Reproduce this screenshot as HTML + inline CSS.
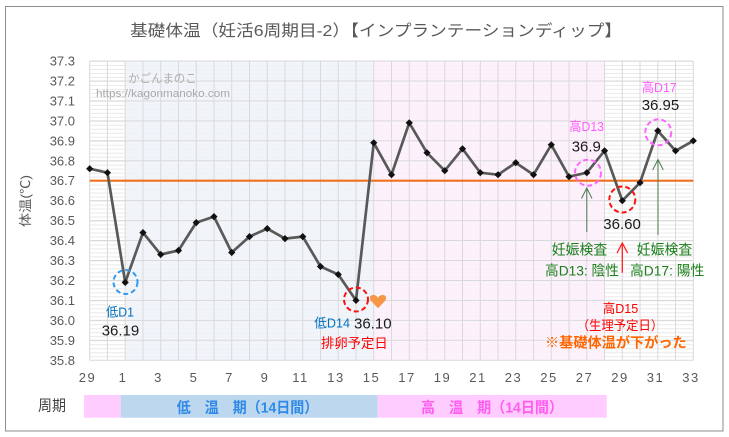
<!DOCTYPE html>
<html><head><meta charset="utf-8"><style>
html,body{margin:0;padding:0;background:#fff;}
svg{display:block;font-family:"Liberation Sans","Noto Sans CJK JP",sans-serif;}
</style></head><body>
<svg width="729" height="437" viewBox="0 0 729 437" xmlns="http://www.w3.org/2000/svg">
<defs>
<pattern id="minor" patternUnits="userSpaceOnUse" x="0" y="61" width="20" height="3.99">
<rect x="0" y="0" width="20" height="0.8" fill="#e4e4e4"/>
</pattern>
<marker id="dm" viewBox="-5 -5 10 10" markerWidth="8" markerHeight="8" markerUnits="userSpaceOnUse" refX="0" refY="0">
<polygon points="0,-4.5 4.5,0 0,4.5 -4.5,0" fill="#111"/>
</marker>
</defs>
<rect x="0" y="0" width="729" height="437" fill="#fff"/>
<rect x="5.5" y="6.5" width="717.5" height="424.5" fill="#fff" stroke="#8e8e8e" stroke-width="1"/>

<text x="130" y="36" font-size="16" fill="#595959" textLength="492" lengthAdjust="spacingAndGlyphs">基礎体温（妊活6周期目-2）【インプランテーションディップ】</text>

<!-- plot background -->
<rect x="89.7" y="61" width="603.6" height="299.3" fill="url(#minor)"/>
<rect x="125.2" y="61" width="248.5" height="299.3" fill="#eef3f9" opacity="0.85"/>
<rect x="373.7" y="61" width="230.8" height="299.3" fill="#fdf0fb" opacity="0.85"/>

<!-- major grid -->
<path fill="none" stroke="#d9d9d9" stroke-width="1" d="M89.7 61V360.3M107.45 61V360.3M125.21 61V360.3M142.96 61V360.3M160.71 61V360.3M178.47 61V360.3M196.22 61V360.3M213.97 61V360.3M231.72 61V360.3M249.48 61V360.3M267.23 61V360.3M284.98 61V360.3M302.74 61V360.3M320.49 61V360.3M338.24 61V360.3M356 61V360.3M373.75 61V360.3M391.5 61V360.3M409.25 61V360.3M427.01 61V360.3M444.76 61V360.3M462.51 61V360.3M480.27 61V360.3M498.02 61V360.3M515.77 61V360.3M533.53 61V360.3M551.28 61V360.3M569.03 61V360.3M586.78 61V360.3M604.54 61V360.3M622.29 61V360.3M640.04 61V360.3M657.8 61V360.3M675.55 61V360.3M693.3 61V360.3
M89.7 61H693.3M89.7 80.95H693.3M89.7 100.9H693.3M89.7 120.85H693.3M89.7 140.8H693.3M89.7 160.75H693.3M89.7 180.7H693.3M89.7 200.65H693.3M89.7 220.6H693.3M89.7 240.55H693.3M89.7 260.5H693.3M89.7 280.45H693.3M89.7 300.4H693.3M89.7 320.35H693.3M89.7 340.3H693.3M89.7 360.25H693.3"/>

<!-- watermark -->
<text x="128.3" y="82.5" font-size="12" fill="#b0b0b0" textLength="68.4" lengthAdjust="spacingAndGlyphs">かごんまのこ</text>
<text x="96" y="97" font-size="11" fill="#a8a8a8" textLength="134" lengthAdjust="spacingAndGlyphs">https://kagonmanoko.com</text>

<!-- y labels -->
<g font-size="13" fill="#595959" text-anchor="end">
<text x="75" y="65.5">37.3</text><text x="75" y="85.5">37.2</text><text x="75" y="105.4">37.1</text><text x="75" y="125.4">37.0</text><text x="75" y="145.3">36.9</text><text x="75" y="165.3">36.8</text><text x="75" y="185.2">36.7</text><text x="75" y="205.2">36.6</text><text x="75" y="225.1">36.5</text><text x="75" y="245.1">36.4</text><text x="75" y="265">36.3</text><text x="75" y="285">36.2</text><text x="75" y="304.9">36.1</text><text x="75" y="324.9">36.0</text><text x="75" y="344.8">35.9</text><text x="75" y="364.8">35.8</text>
</g>
<text transform="translate(30,201) rotate(-90)" font-size="13" fill="#595959" text-anchor="middle" textLength="52" lengthAdjust="spacingAndGlyphs">体温(℃)</text>

<!-- x labels -->
<g font-size="13" fill="#595959" text-anchor="middle" letter-spacing="1.5">
<text x="87.5" y="382">29</text><text x="123" y="382">1</text><text x="158.5" y="382">3</text><text x="194" y="382">5</text><text x="229.5" y="382">7</text><text x="265" y="382">9</text><text x="300.5" y="382">11</text><text x="336" y="382">13</text><text x="371.5" y="382">15</text><text x="407" y="382">17</text><text x="442.5" y="382">19</text><text x="478" y="382">21</text><text x="513.5" y="382">23</text><text x="549" y="382">25</text><text x="584.5" y="382">27</text><text x="620" y="382">29</text><text x="655.5" y="382">31</text><text x="691" y="382">33</text>
</g>

<!-- orange line -->
<line x1="89.7" y1="180.7" x2="693.3" y2="180.7" stroke="#f07020" stroke-width="2.2"/>

<!-- series -->
<polyline fill="none" stroke="#595959" stroke-width="2.7" stroke-linejoin="round" marker-start="url(#dm)" marker-mid="url(#dm)" marker-end="url(#dm)" points="89.7,168.7 107.45,172.7 125.21,282.4 142.96,232.6 160.71,254.5 178.47,250.5 196.22,222.6 213.97,216.6 231.72,252.5 249.48,236.6 267.23,228.6 284.98,238.6 302.74,236.6 320.49,266.5 338.24,274.5 356,300.4 373.75,142.8 391.5,174.7 409.25,122.8 427.01,152.8 444.76,170.7 462.51,148.8 480.27,172.7 498.02,174.7 515.77,162.7 533.53,174.7 551.28,144.8 569.03,176.7 586.78,172.7 604.54,150.8 622.29,200.7 640.04,182.7 657.8,130.8 675.55,150.8 693.3,140.8"/>

<!-- dashed circles -->
<g fill="none" stroke-width="2" stroke-dasharray="5 3">
<circle cx="125.5" cy="282" r="12" stroke="#3399ee"/>
<circle cx="356" cy="299.5" r="12" stroke="#ff1010"/>
<circle cx="588" cy="172.7" r="13" stroke="#ff66ff"/>
<circle cx="622.3" cy="199.5" r="13" stroke="#ff1010"/>
<circle cx="658.3" cy="132.3" r="13" stroke="#ff66ff"/>
</g>

<!-- heart -->
<path d="M378,308.3 L371.5,301.5 C369,298.5 369.5,295.3 373,295 C375.5,294.8 377.3,296.3 378,298 C378.7,296.3 380.5,294.8 383,295 C386.5,295.3 387,298.5 384.5,301.5 Z" fill="#f79646"/>

<!-- arrows -->
<g fill="none" stroke="#4f7a4f" stroke-width="1">
<path d="M586.8,232 V188 M581.5,198.5 L586.8,188 L592,198.5"/>
<path d="M658,235 V159.5 M652.7,170 L658,159.5 L663.3,170"/>
</g>
<path d="M622.3,272.7 V243 M617,253 L622.3,243 L627.6,253" fill="none" stroke="#ff2020" stroke-width="1.3"/>

<!-- annotations -->
<text x="106" y="316.5" font-size="13" fill="#0070c0" textLength="28" lengthAdjust="spacingAndGlyphs">低D1</text>
<text x="101.7" y="335.7" font-size="15" fill="#1a1a1a">36.19</text>
<text x="314.3" y="327.5" font-size="13" fill="#0070c0" textLength="35.7" lengthAdjust="spacingAndGlyphs">低D14</text>
<text x="354" y="328.3" font-size="15" fill="#1a1a1a">36.10</text>
<text x="321" y="348" font-size="13.5" fill="#ff0000" textLength="66.7" lengthAdjust="spacingAndGlyphs">排卵予定日</text>

<text x="569.3" y="131" font-size="13" fill="#ff5cff" textLength="34.7" lengthAdjust="spacingAndGlyphs">高D13</text>
<text x="571.7" y="151.7" font-size="15" fill="#1a1a1a">36.9</text>
<text x="641.7" y="92" font-size="13" fill="#ff5cff" textLength="35" lengthAdjust="spacingAndGlyphs">高D17</text>
<text x="641.7" y="110" font-size="15" fill="#1a1a1a">36.95</text>
<text x="603.3" y="229" font-size="15" fill="#1a1a1a">36.60</text>

<g font-size="14" fill="#1a7f1a">
<text x="551.7" y="254.5" textLength="55.6" lengthAdjust="spacingAndGlyphs">妊娠検査</text>
<text x="636.7" y="254.5" textLength="55.6" lengthAdjust="spacingAndGlyphs">妊娠検査</text>
<text x="545" y="275.5" textLength="74" lengthAdjust="spacingAndGlyphs">高D13: 陰性</text>
<text x="630" y="275.5" textLength="74.3" lengthAdjust="spacingAndGlyphs">高D17: 陽性</text>
</g>
<text x="602.7" y="313" font-size="13" fill="#ff0000" textLength="35.6" lengthAdjust="spacingAndGlyphs">高D15</text>
<text x="576.7" y="330" font-size="13" fill="#ff0000" textLength="86.6" lengthAdjust="spacingAndGlyphs">（生理予定日）</text>
<text x="545" y="347.5" font-size="14" font-weight="bold" fill="#ff6600" textLength="141.7" lengthAdjust="spacingAndGlyphs">※基礎体温が下がった</text>

<!-- bottom bar -->
<text x="38" y="410.5" font-size="15" fill="#404040" textLength="28" lengthAdjust="spacingAndGlyphs">周期</text>
<rect x="84" y="395" width="36.7" height="22.7" fill="#ffccff"/>
<rect x="120.7" y="395" width="257" height="22.7" fill="#bdd7ee"/>
<rect x="377.7" y="395" width="229" height="22.7" fill="#ffccff"/>
<text x="176.7" y="412.5" font-size="15" font-weight="bold" fill="#2e8ae6" textLength="141.6" lengthAdjust="spacingAndGlyphs">低　温　期（14日間）</text>
<text x="421" y="412.5" font-size="15" font-weight="bold" fill="#ff5cf0" textLength="142" lengthAdjust="spacingAndGlyphs">高　温　期（14日間）</text>
</svg>
</body></html>
